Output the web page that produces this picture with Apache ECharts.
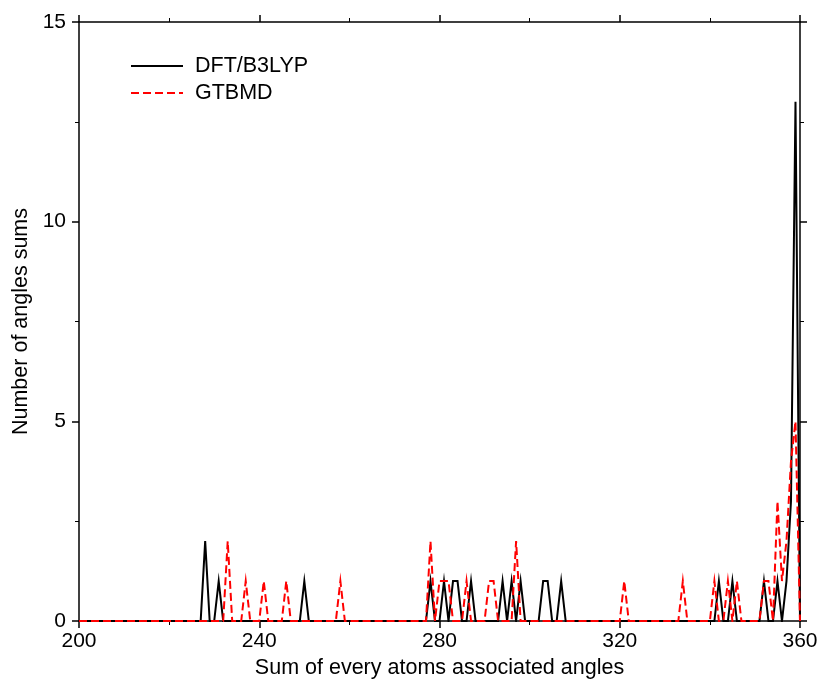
<!DOCTYPE html>
<html>
<head>
<meta charset="utf-8">
<script src="https://cdn.jsdelivr.net/npm/echarts@6/dist/echarts.min.js"></script>
<style>
html,body{margin:0;padding:0;background:#fff;}
#chart{width:822px;height:684px;}
</style>
</head>
<body>
<div id="chart"></div>
<script>
// Vertices of the DFT/B3LYP curve (angle sum, count)
var dftX = [200,227,228,229,230,231,232,249,250,251,277,278,279,280,281,282,283,284,285,286,287,288,293,294,295,296,297,298,299,302,303,304,305,306,307,308,341,342,343,344,345,346,351,352,353,354,355,356,357,358,359,360];
var dftY = [0,0,2,0,0,1,0,0,1,0,0,1,0,0,1,0,1,1,0,0,1,0,0,1,0,1,0,1,0,0,1,1,0,0,1,0,0,1,0,0,1,0,0,1,0,0,1,0,1,3,13,0];
// Vertices of the GTBMD curve
var gtbX = [200,232,233,234,236,237,238,240,241,242,245,246,247,257,258,259,277,278,279,280,281,282,283,285,286,287,290,291,292,293,296,297,298,320,321,322,333,334,335,340,341,342,343,344,345,346,347,351,352,353,354,355,356,357,358,359,360];
var gtbY = [0,0,2,0,0,1,0,0,1,0,0,1,0,0,1,0,0,2,0,1,1,1,0,0,1,0,0,1,1,0,0,2,0,0,1,0,0,1,0,0,1,0,0,1,0,1,0,0,1,1,0,3,1,2,4,5,0];
var seriesNames = ['DFT/B3LYP', 'GTBMD'];
var xTicks = [200, 240, 280, 320, 360];
var yTicks = [0, 5, 10, 15];

function pairs(xs, ys){ return xs.map(function(x,i){ return [x, ys[i]]; }); }

var font = 'Liberation Sans, Arial, Helvetica, sans-serif';
var chart = echarts.init(document.getElementById('chart'), null, {renderer:'canvas'});

function axisBase(pos, showLabel, isX){
  return {
    type:'value', position:pos,
    min: isX ? xTicks[0] : yTicks[0],
    max: isX ? xTicks[xTicks.length-1] : yTicks[yTicks.length-1],
    interval: isX ? 40 : 5,
    axisLine:{show:true, onZero:false, lineStyle:{color:'#000', width:1.5}},
    axisTick:{show:true, inside:false, length:7, lineStyle:{color:'#000', width:1.5}},
    minorTick:{show:true, splitNumber:2, length:4, lineStyle:{color:'#000', width:1}},
    splitLine:{show:false},
    axisLabel:{show:showLabel, color:'#000', fontSize:21, fontFamily:font, margin: isX ? 10 : 13},
  };
}

var xb = axisBase('bottom', true, true);
xb.name = 'Sum of every atoms associated angles';
xb.nameLocation = 'middle';
xb.nameGap = 36;
xb.nameTextStyle = {color:'#000', fontSize:21.5, fontFamily:font};
var xt = axisBase('top', false, true);
var yl = axisBase('left', true, false);
yl.name = 'Number of angles sums';
yl.nameLocation = 'middle';
yl.nameGap = 46;
yl.nameTextStyle = {color:'#000', fontSize:21.5, fontFamily:font};
var yr = axisBase('right', false, false);

var option = {
  animation:false,
  backgroundColor:'#fff',
  grid:{left:79, right:22, top:22, bottom:60},
  legend:{
    orient:'vertical', left:125, top:50, itemWidth:52, itemHeight:14, itemGap:5,
    itemStyle:{opacity:0},
    textStyle:{color:'#000', fontSize:21.5, fontFamily:font, padding:[0,0,0,7]},
    data:seriesNames
  },
  xAxis:[xb, xt],
  yAxis:[yl, yr],
  series:[
    {name:seriesNames[0], type:'line', data:pairs(dftX, dftY), symbol:'none',
     lineStyle:{color:'#000', width:2, join:'miter', miterLimit:10}, itemStyle:{color:'#000'}},
    {name:seriesNames[1], type:'line', data:pairs(gtbX, gtbY), symbol:'none',
     lineStyle:{color:'#ff0000', width:2, type:[8,4], join:'miter', miterLimit:10}, itemStyle:{color:'#ff0000'}}
  ]
};
chart.setOption(option);
</script>
</body>
</html>
